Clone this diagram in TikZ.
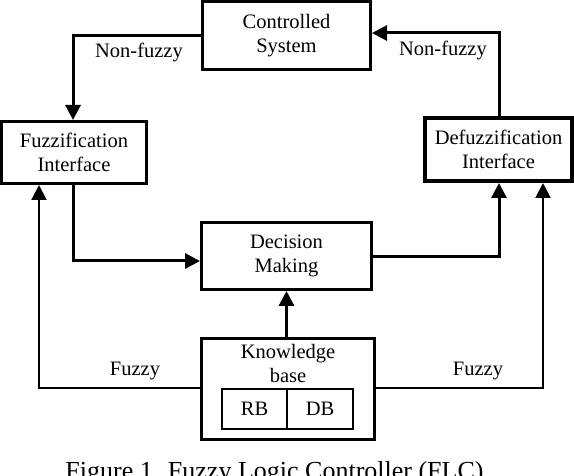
\documentclass[tikz,border=0pt]{standalone}
\usepackage{fontspec}
\setmainfont{Liberation Serif}
\usepackage{tikz}
\usetikzlibrary{arrows.meta,positioning,calc}
\newcommand{\flcfont}{\fontsize{20.5pt}{24pt}\selectfont}
\tikzset{
  box/.style={draw,line width=3pt,inner sep=0pt,align=center,font=\flcfont},
  boxd/.style={box,line width=4pt},                 % defuzzifier is drawn heavier
  cell/.style={draw,line width=2pt,inner sep=0pt,minimum height=40pt,font=\flcfont},
  flow/.style={-{Triangle[length=15pt,width=15pt]},line width=3pt,line join=miter},
  flowf/.style={flow,line width=2pt},              % the two "Fuzzy" returns
  elabel/.style={font=\flcfont,inner sep=1pt},
  figcap/.style={font=\fontsize{26pt}{30pt}\selectfont,anchor=base},
}
\begin{document}
\begin{tikzpicture}[x=1pt,y=-1pt]
  \useasboundingbox (0,0) rectangle (574,476);
  \node[box,minimum width=168pt,minimum height=68pt](ctrl) at (286.5,35.5){Controlled\\System};
  \node[box,minimum width=145pt,minimum height=62pt](fuzz) at (74,152.5){Fuzzification\\Interface};
  \node[boxd,minimum width=147pt,minimum height=63pt](defuzz) at (498.5,149.5){Defuzzification\\Interface};
  \node[box,minimum width=170pt,minimum height=67pt](dec) at (286.5,256){Decision\\Making};
  \node[box,minimum width=173pt,minimum height=101pt](kb) at (288,389){};
  \node[font=\flcfont,align=center,inner sep=0pt](kbtxt) at (288,363){Knowledge\\base};
  \node[cell,minimum width=65pt](rb) at (254.5,409){RB};
  \node[cell,minimum width=66pt,right=-2pt of rb](db){DB};
  % loop through the controlled system
  \coordinate (tl) at (73,36);
  \coordinate (tr) at (499,33);
  \draw[flow](ctrl.west|-tl)--(tl)--(tl|-fuzz.north);
  \draw[flow](tr|-defuzz.north)--(tr)--(ctrl.east|-tr);
  \node[elabel](nfl) at (139,52){Non-fuzzy};
  \node[elabel](nfr) at (443,50){Non-fuzzy};
  % inference path
  \coordinate (ml) at (73,261);
  \coordinate (mr) at (499,257);
  \draw[flow](ml|-fuzz.south)--(ml)--(dec.west|-ml);
  \draw[flow](dec.east|-mr)--(mr)--(mr|-defuzz.south);
  \draw[flow](kb.north-|dec.south)--(dec.south);
  % knowledge base feeds both interfaces
  \coordinate (bl) at (39,388);
  \coordinate (br) at (543,388);
  \draw[flowf](kb.west|-bl)--(bl)--(bl|-fuzz.south);
  \draw[flowf](kb.east|-br)--(br)--(br|-defuzz.south);
  \node[elabel](fl) at (135,371){Fuzzy};
  \node[elabel](fr) at (478,371){Fuzzy};
  \node[figcap](cap) at (274.5,479){Figure 1. Fuzzy Logic Controller (FLC)};
\end{tikzpicture}
\end{document}
